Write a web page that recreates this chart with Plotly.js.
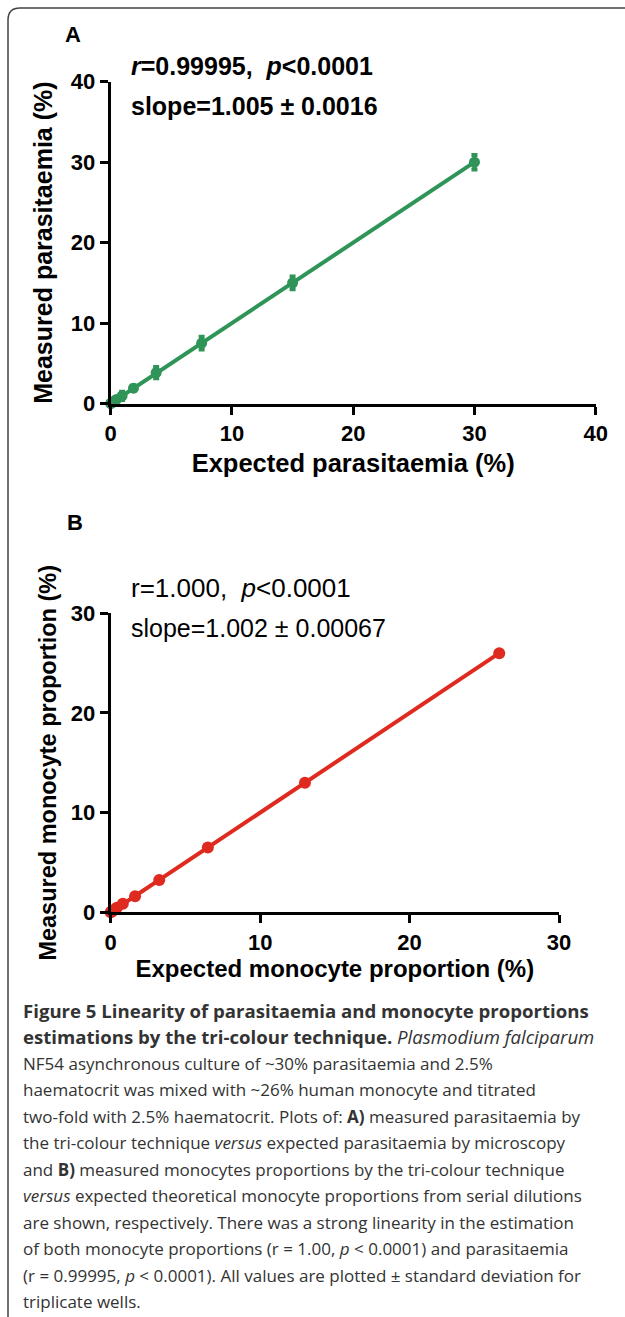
<!DOCTYPE html>
<html>
<head>
<meta charset="utf-8">
<script src="https://cdn.plot.ly/plotly-3.0.1.min.js"></script>
<style>
html,body{margin:0;padding:0;background:#fff;}
#chart{width:625px;height:1317px;}
</style>
</head>
<body>
<div id="chart"></div>
<script>
// ---- data ----
const expectedParasitaemia = [30, 15, 7.5, 3.75, 1.88, 0.94, 0.47, 0.23, 0.12, 0.06, 0];
const measuredParasitaemia = [30.0, 15.0, 7.5, 3.85, 1.9, 0.95, 0.5, 0.25, 0.12, 0.06, 0];
const sdParasitaemia = [0.9, 0.8, 0.8, 0.7, 0.35, 0.5, 0.3, 0.2, 0.1, 0.05, 0.05];

const expectedMonocyte = [26, 13, 6.5, 3.25, 1.63, 0.81, 0.41, 0.2, 0.1, 0.05, 0];
const measuredMonocyte = [26.0, 13.0, 6.5, 3.25, 1.6, 0.85, 0.45, 0.22, 0.1, 0.05, 0];
const sdMonocyte = [0.15, 0.1, 0.1, 0.08, 0.06, 0.05, 0.04, 0.03, 0.02, 0.01, 0.01];

const ticksA = [0, 10, 20, 30, 40];
const ticksB = [0, 10, 20, 30];

const captionLines = [
  "<b>Figure 5 Linearity of parasitaemia and monocyte proportions</b>",
  "<b>estimations by the tri-colour technique.</b> <i>Plasmodium falciparum</i>",
  "NF54 asynchronous culture of ~30% parasitaemia and 2.5%",
  "haematocrit was mixed with ~26% human monocyte and titrated",
  "two-fold with 2.5% haematocrit. Plots of: <b>A)</b> measured parasitaemia by",
  "the tri-colour technique <i>versus</i> expected parasitaemia by microscopy",
  "and <b>B)</b> measured monocytes proportions by the tri-colour technique",
  "<i>versus</i> expected theoretical monocyte proportions from serial dilutions",
  "are shown, respectively. There was a strong linearity in the estimation",
  "of both monocyte proportions (r = 1.00, <i>p</i> &lt; 0.0001) and parasitaemia",
  "(r = 0.99995, <i>p</i> &lt; 0.0001). All values are plotted ± standard deviation for",
  "triplicate wells."
];

// ---- helpers (pixel -> paper) ----
const W = 625, H = 1317;
const px = x => x / W;
const py = y => 1 - y / H;

const FONT = "Liberation Sans, Arial, sans-serif";
const green = "#2f9457";
const red = "#df2a1f";

const traces = [
  {
    x: expectedParasitaemia, y: measuredParasitaemia,
    xaxis: "x", yaxis: "y",
    type: "scatter", mode: "lines+markers",
    line: {color: green, width: 4},
    marker: {color: green, size: 11},
    error_y: {type: "data", array: sdParasitaemia, visible: true, color: green, thickness: 4, width: 3},
    cliponaxis: false, showlegend: false, hoverinfo: "x+y"
  },
  {
    x: expectedMonocyte, y: measuredMonocyte,
    xaxis: "x2", yaxis: "y2",
    type: "scatter", mode: "lines+markers",
    line: {color: red, width: 4},
    marker: {color: red, size: 12},
    error_y: {type: "data", array: sdMonocyte, visible: true, color: red, thickness: 3, width: 3},
    cliponaxis: false, showlegend: false, hoverinfo: "x+y"
  }
];

function axisCommon(ticks, range) {
  return {
    range: range, tickvals: ticks, ticktext: ticks.map(String),
    showgrid: false, zeroline: false,
    showline: true, linecolor: "#000", linewidth: 3,
    ticks: "outside", ticklen: 8, tickwidth: 3, tickcolor: "#000",
    tickfont: {family: FONT, size: 22, color: "#000", weight: 700},
    fixedrange: true
  };
}

const layout = {
  width: W, height: H,
  margin: {l: 0, r: 0, t: 0, b: 0},
  paper_bgcolor: "#fff", plot_bgcolor: "rgba(0,0,0,0)",
  showlegend: false,
  xaxis: Object.assign(axisCommon(ticksA, [0, 40]), {
    domain: [px(110.7), px(595.7)], anchor: "y",
    title: {text: "Expected parasitaemia (%)", font: {family: FONT, size: 25.5, color: "#000", weight: 700}, standoff: 10}
  }),
  yaxis: Object.assign(axisCommon(ticksA, [0, 40]), {
    domain: [py(403.5), py(81.7)], anchor: "x",
    title: {text: "Measured parasitaemia (%)", font: {family: FONT, size: 25, color: "#000", weight: 700}, standoff: 12}
  }),
  xaxis2: Object.assign(axisCommon(ticksB, [0, 30]), {
    domain: [px(110.7), px(559)], anchor: "y2",
    title: {text: "Expected monocyte proportion (%)", font: {family: FONT, size: 24, color: "#000", weight: 700}, standoff: 0}
  }),
  yaxis2: Object.assign(axisCommon(ticksB, [0, 30]), {
    domain: [py(912.3), py(613.3)], anchor: "x2",
    title: {text: "Measured monocyte proportion (%)", font: {family: FONT, size: 23.5, color: "#000", weight: 700}, standoff: 8}
  }),
  shapes: [
    {
      type: "path", xref: "paper", yref: "paper",
      path: `M ${px(8)} ${py(1317)} L ${px(8)} ${py(20)} Q ${px(8)} ${py(8)} ${px(20)} ${py(8)} L ${px(625)} ${py(8)}`,
      line: {color: "#444", width: 1.5}
    }
  ],
  annotations: []
};

const ann = (text, x, y, size, weight, opts) => Object.assign({
  text: text, xref: "paper", yref: "paper", x: px(x), y: py(y),
  xanchor: "left", yanchor: "middle", showarrow: false,
  font: {family: FONT, size: size, color: "#000", weight: weight}
}, opts || {});

layout.annotations.push(ann("A", 63, 34, 22, 700));
layout.annotations.push(ann("<i>r</i>=0.99995,  <i>p</i>&lt;0.0001", 129, 66, 25, 700));
layout.annotations.push(ann("slope=1.005 ± 0.0016", 129, 106, 25, 700));
layout.annotations.push(ann("B", 65, 522, 22, 700));
layout.annotations.push(ann("r=1.000,  <i>p</i>&lt;0.0001", 129, 588, 26, 400));
layout.annotations.push(ann("slope=1.002 ± 0.00067", 129, 628, 25, 400));

captionLines.forEach((line, i) => {
  layout.annotations.push({
    text: line, xref: "paper", yref: "paper",
    x: px(21), y: py(1010 + 26.5 * i),
    xanchor: "left", yanchor: "middle", showarrow: false,
    font: {family: "Open Sans, Noto Sans, sans-serif", size: i < 2 ? 18.6 : 17, color: "#333"}
  });
});

Plotly.newPlot("chart", traces, layout, {staticPlot: true, displayModeBar: false});
</script>
</body>
</html>
